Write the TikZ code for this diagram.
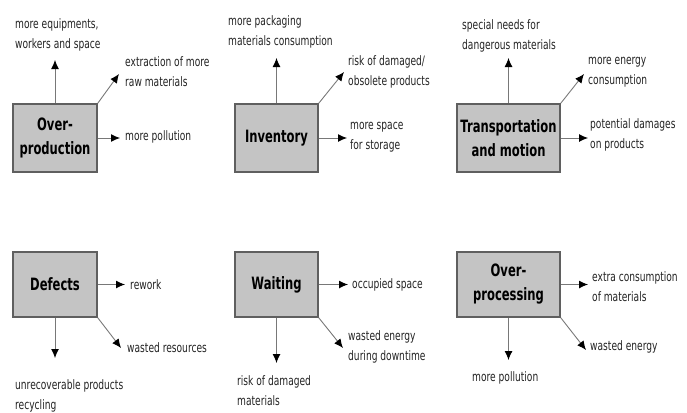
\documentclass[tikz,border=0pt]{standalone}
\usepackage{fontspec}
\usetikzlibrary{arrows.meta}
\newfontfamily\lblfont[FakeStretch=0.70]{DejaVu Sans}
\newfontfamily\boxfont[FakeStretch=0.68]{DejaVu Sans Bold}
\definecolor{boxfill}{RGB}{196,196,196}
\definecolor{boxline}{RGB}{95,95,95}
\definecolor{txt}{RGB}{35,35,35}
\definecolor{conn}{RGB}{120,120,120}
\tikzset{
  wastebox/.style={draw=boxline, line width=1.6pt, fill=boxfill, inner sep=0pt,
    align=center, text=black, font=\boxfont\fontsize{17}{24}\selectfont},
  lbl/.style={anchor=west, inner sep=0pt, align=left, text=txt,
    font=\lblfont\fontsize{13}{20}\selectfont},
  arr/.style={draw=conn, line width=0.9pt, -{Latex[color=black,length=9pt,width=8pt]}}
}
\begin{document}
\begin{tikzpicture}[x=1pt,y=-1pt]
\useasboundingbox (0,0) rectangle (687,412);
% ---------- boxes ----------
\node[wastebox, minimum width=84pt, minimum height=68pt] (b1) at (55,138) {Over-\\production};
\node[wastebox, minimum width=83pt, minimum height=68pt] (b2) at (276.5,138) {Inventory};
\node[wastebox, minimum width=103pt, minimum height=68pt] (b3) at (508.5,138) {Transportation\\and motion};
\node[wastebox, minimum width=84pt, minimum height=65pt] (b4) at (55,284.5) {Defects};
\node[wastebox, minimum width=83pt, minimum height=65pt] (b5) at (276.5,284.5) {Waiting};
\node[wastebox, minimum width=103pt, minimum height=65pt] (b6) at (508.5,284.5) {Over-\\processing};
% ---------- labels ----------
\node[lbl] (l1u) at (15,35) {more equipments,\\workers and space};
\node[lbl] (l1d) at (125,72) {extraction of more\\raw materials};
\node[lbl] (l1r) at (125,137) {more pollution};
\node[lbl] (l2u) at (228,32) {more packaging\\materials consumption};
\node[lbl] (l2d) at (348,72) {risk of damaged/\\obsolete products};
\node[lbl] (l2r) at (350,137) {more space\\for storage};
\node[lbl] (l3u) at (462,36) {special needs for\\dangerous materials};
\node[lbl] (l3d) at (588,72) {more energy\\consumption};
\node[lbl] (l3r) at (590,135) {potential damages\\on products};
\node[lbl] (l4r) at (130,285) {rework};
\node[lbl] (l4d) at (127,348) {wasted resources};
\node[lbl] (l4b) at (15,396) {unrecoverable products\\recycling};
\node[lbl] (l5r) at (352,285) {occupied space};
\node[lbl] (l5d) at (348,347) {wasted energy\\during downtime};
\node[lbl] (l5b) at (237,391) {risk of damaged\\materials};
\node[lbl] (l6r) at (592,287) {extra consumption\\of materials};
\node[lbl] (l6d) at (590,347) {wasted energy};
\node[lbl] (l6b) at (472,378) {more pollution};
% ---------- arrow tips ----------
\coordinate (t1u) at (55,60);
\coordinate (t1d) at (119,74);
\coordinate (t1r) at (120,138);
\coordinate (t2u) at (276.5,58);
\coordinate (t2d) at (344,72);
\coordinate (t2r) at (347,138);
\coordinate (t3u) at (508.5,58);
\coordinate (t3d) at (584,74);
\coordinate (t3r) at (588,138);
\coordinate (t4r) at (125,284.5);
\coordinate (t4d) at (121,348);
\coordinate (t4b) at (55,358);
\coordinate (t5r) at (348,284.5);
\coordinate (t5d) at (343,348);
\coordinate (t5b) at (276.5,363);
\coordinate (t6r) at (588,284.5);
\coordinate (t6d) at (586,350);
\coordinate (t6b) at (508.5,360);
% ---------- connectors ----------
\draw[arr] (b1.north) -- (t1u);
\draw[arr] (b1.north east) -- (t1d);
\draw[arr] (b1.east) -- (t1r);
\draw[arr] (b2.north) -- (t2u);
\draw[arr] (b2.north east) -- (t2d);
\draw[arr] (b2.east) -- (t2r);
\draw[arr] (b3.north) -- (t3u);
\draw[arr] (b3.north east) -- (t3d);
\draw[arr] (b3.east) -- (t3r);
\draw[arr] (b4.east) -- (t4r);
\draw[arr] (b4.south east) -- (t4d);
\draw[arr] (b4.south) -- (t4b);
\draw[arr] (b5.east) -- (t5r);
\draw[arr] (b5.south east) -- (t5d);
\draw[arr] (b5.south) -- (t5b);
\draw[arr] (b6.east) -- (t6r);
\draw[arr] (b6.south east) -- (t6d);
\draw[arr] (b6.south) -- (t6b);
\end{tikzpicture}
\end{document}
